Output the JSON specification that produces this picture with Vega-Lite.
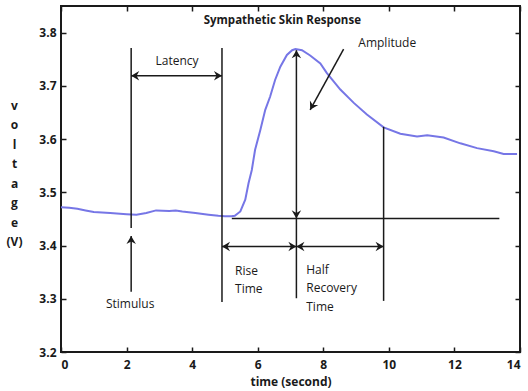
{
  "$schema": "https://vega.github.io/schema/vega-lite/v6.json",
  "width": 459,
  "height": 346,
  "autosize": {"type": "none"},
  "padding": {"left": 61, "top": 6, "right": 8, "bottom": 39},
  "background": "white",
  "view": {"stroke": "#1a1a1a", "strokeWidth": 2},
  "config": {
    "font": "Open Sans",
    "axis": {
      "grid": false,
      "domain": false,
      "tickSize": -5,
      "tickColor": "#1a1a1a",
      "tickWidth": 1.5,
      "labelFont": "Open Sans",
      "labelFontWeight": "bold",
      "labelFontSize": 12,
      "labelColor": "#1a1a1a",
      "titleFont": "Open Sans",
      "titleFontWeight": "bold",
      "titleFontSize": 12,
      "titleColor": "#1a1a1a"
    }
  },
  "layer": [
    {
      "data": {"values": [
        {"t": 0, "v": 3.472}, {"t": 0.25, "v": 3.471}, {"t": 0.5, "v": 3.469}, {"t": 0.75, "v": 3.466},
        {"t": 1.0, "v": 3.463}, {"t": 1.5, "v": 3.461}, {"t": 2.0, "v": 3.459}, {"t": 2.3, "v": 3.458},
        {"t": 2.6, "v": 3.461}, {"t": 2.9, "v": 3.466}, {"t": 3.3, "v": 3.465}, {"t": 3.5, "v": 3.466},
        {"t": 3.7, "v": 3.464}, {"t": 4.1, "v": 3.461}, {"t": 4.5, "v": 3.458}, {"t": 4.8, "v": 3.456},
        {"t": 5.0, "v": 3.455}, {"t": 5.2, "v": 3.455}, {"t": 5.3, "v": 3.456}, {"t": 5.47, "v": 3.464},
        {"t": 5.62, "v": 3.486}, {"t": 5.72, "v": 3.517}, {"t": 5.82, "v": 3.542}, {"t": 5.92, "v": 3.58},
        {"t": 6.08, "v": 3.617}, {"t": 6.23, "v": 3.655}, {"t": 6.38, "v": 3.68}, {"t": 6.53, "v": 3.711},
        {"t": 6.69, "v": 3.736}, {"t": 6.89, "v": 3.758}, {"t": 7.05, "v": 3.767}, {"t": 7.15, "v": 3.769},
        {"t": 7.35, "v": 3.767}, {"t": 7.6, "v": 3.757}, {"t": 7.91, "v": 3.742}, {"t": 8.11, "v": 3.724},
        {"t": 8.52, "v": 3.693}, {"t": 8.93, "v": 3.668}, {"t": 9.33, "v": 3.646}, {"t": 9.84, "v": 3.622},
        {"t": 10.35, "v": 3.61}, {"t": 10.86, "v": 3.605}, {"t": 11.17, "v": 3.607}, {"t": 11.67, "v": 3.603},
        {"t": 12.18, "v": 3.592}, {"t": 12.69, "v": 3.583}, {"t": 13.2, "v": 3.577}, {"t": 13.5, "v": 3.572},
        {"t": 13.91, "v": 3.572}
      ]},
      "mark": {"type": "line", "color": "#7676e6", "strokeWidth": 2},
      "encoding": {
        "x": {"field": "t", "type": "quantitative",
              "scale": {"domain": [0, 14], "nice": false, "zero": false},
              "axis": {"orient": "bottom", "values": [0, 2, 4, 6, 8, 10, 12, 14], "format": "d",
                       "labelPadding": 12, "title": "time (second)", "titlePadding": 6}},
        "y": {"field": "v", "type": "quantitative",
              "scale": {"domain": [3.2, 3.85], "nice": false, "zero": false},
              "axis": {"orient": "left", "values": [3.2, 3.3, 3.4, 3.5, 3.6, 3.7, 3.8], "format": ".1f",
                       "labelPadding": 10,
                       "title": ["v", "o", "l", "t", "a", "g", "e", "(V)"],
                       "titleAngle": 0, "titleAlign": "center", "titleBaseline": "middle",
                       "titleLineHeight": 19.5, "titleX": -47, "titleY": 99}}
      }
    },
    {
      "data": {"values": [
        {"x": 2.14, "y": 3.771, "x2": 2.14, "y2": 3.433},
        {"x": 2.14, "y": 3.313, "x2": 2.14, "y2": 3.418},
        {"x": 4.91, "y": 3.771, "x2": 4.91, "y2": 3.294},
        {"x": 2.14, "y": 3.719, "x2": 4.91, "y2": 3.719},
        {"x": 5.21, "y": 3.451, "x2": 13.37, "y2": 3.451},
        {"x": 7.18, "y": 3.767, "x2": 7.18, "y2": 3.301},
        {"x": 4.91, "y": 3.398, "x2": 7.18, "y2": 3.398},
        {"x": 7.18, "y": 3.398, "x2": 9.84, "y2": 3.398},
        {"x": 9.84, "y": 3.623, "x2": 9.84, "y2": 3.296},
        {"x": 8.62, "y": 3.769, "x2": 7.6, "y2": 3.655}
      ]},
      "mark": {"type": "rule", "color": "#1a1a1a", "strokeWidth": 1.5},
      "encoding": {
        "x": {"field": "x", "type": "quantitative",
              "axis": {"orient": "top", "values": [0, 2, 4, 6, 8, 10, 12, 14], "labels": false, "title": null}},
        "y": {"field": "y", "type": "quantitative",
              "axis": {"orient": "right", "values": [3.2, 3.3, 3.4, 3.5, 3.6, 3.7, 3.8], "labels": false, "title": null}},
        "x2": {"field": "x2"},
        "y2": {"field": "y2"}
      }
    },
    {
      "data": {"values": [{"x": 2.14, "y": 3.418}, {"x": 7.18, "y": 3.767}]},
      "mark": {"type": "point", "shape": "M0,0 L1,1.7 L0,1.15 L-1,1.7 Z", "size": 90, "filled": true, "opacity": 1, "color": "#1a1a1a", "angle": 0},
      "encoding": {
        "x": {"field": "x", "type": "quantitative", "axis": null},
        "y": {"field": "y", "type": "quantitative", "axis": null}
      }
    },
    {
      "data": {"values": [{"x": 7.18, "y": 3.451}]},
      "mark": {"type": "point", "shape": "M0,0 L1,1.7 L0,1.15 L-1,1.7 Z", "size": 90, "filled": true, "opacity": 1, "color": "#1a1a1a", "angle": 180},
      "encoding": {
        "x": {"field": "x", "type": "quantitative", "axis": null},
        "y": {"field": "y", "type": "quantitative", "axis": null}
      }
    },
    {
      "data": {"values": [{"x": 2.14, "y": 3.719}, {"x": 4.91, "y": 3.398}, {"x": 7.18, "y": 3.398}]},
      "mark": {"type": "point", "shape": "M0,0 L1,1.7 L0,1.15 L-1,1.7 Z", "size": 90, "filled": true, "opacity": 1, "color": "#1a1a1a", "angle": 270},
      "encoding": {
        "x": {"field": "x", "type": "quantitative", "axis": null},
        "y": {"field": "y", "type": "quantitative", "axis": null}
      }
    },
    {
      "data": {"values": [{"x": 4.91, "y": 3.719}, {"x": 7.18, "y": 3.398}, {"x": 9.84, "y": 3.398}]},
      "mark": {"type": "point", "shape": "M0,0 L1,1.7 L0,1.15 L-1,1.7 Z", "size": 90, "filled": true, "opacity": 1, "color": "#1a1a1a", "angle": 90},
      "encoding": {
        "x": {"field": "x", "type": "quantitative", "axis": null},
        "y": {"field": "y", "type": "quantitative", "axis": null}
      }
    },
    {
      "data": {"values": [{"x": 7.6, "y": 3.655}]},
      "mark": {"type": "point", "shape": "M0,0 L1,1.7 L0,1.15 L-1,1.7 Z", "size": 90, "filled": true, "opacity": 1, "color": "#1a1a1a", "angle": 209},
      "encoding": {
        "x": {"field": "x", "type": "quantitative", "axis": null},
        "y": {"field": "y", "type": "quantitative", "axis": null}
      }
    },
    {
      "data": {"values": [{"x": 6.75, "y": 3.822, "label": "Sympathetic Skin Response"}]},
      "mark": {"type": "text", "font": "Open Sans", "fontWeight": "bold", "fontSize": 11.5, "color": "#1a1a1a", "align": "center", "baseline": "middle"},
      "encoding": {
        "x": {"field": "x", "type": "quantitative", "axis": null},
        "y": {"field": "y", "type": "quantitative", "axis": null},
        "text": {"field": "label"}
      }
    },
    {
      "data": {"values": [
        {"x": 3.54, "y": 3.746, "label": "Latency"},
        {"x": 9.95, "y": 3.78, "label": "Amplitude"},
        {"x": 2.11, "y": 3.29, "label": "Stimulus"}
      ]},
      "mark": {"type": "text", "font": "Open Sans", "fontSize": 12, "color": "#1a1a1a", "align": "center", "baseline": "middle"},
      "encoding": {
        "x": {"field": "x", "type": "quantitative", "axis": null},
        "y": {"field": "y", "type": "quantitative", "axis": null},
        "text": {"field": "label"}
      }
    },
    {
      "data": {"values": [
        {"x": 5.31, "y": 3.352, "label": "Rise"},
        {"x": 5.31, "y": 3.318, "label": "Time"},
        {"x": 7.48, "y": 3.354, "label": "Half"},
        {"x": 7.48, "y": 3.32, "label": "Recovery"},
        {"x": 7.48, "y": 3.284, "label": "Time"}
      ]},
      "mark": {"type": "text", "font": "Open Sans", "fontSize": 12, "color": "#1a1a1a", "align": "left", "baseline": "middle"},
      "encoding": {
        "x": {"field": "x", "type": "quantitative", "axis": null},
        "y": {"field": "y", "type": "quantitative", "axis": null},
        "text": {"field": "label"}
      }
    }
  ]
}
